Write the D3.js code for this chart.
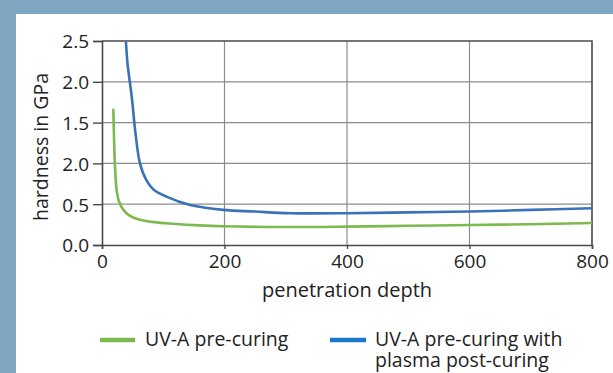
<!DOCTYPE html>
<html>
<head>
<meta charset="utf-8">
<script src="https://cdnjs.cloudflare.com/ajax/libs/d3/7.8.5/d3.min.js"></script>
<style>
  html, body { margin: 0; padding: 0; background: #7fa6c1; }
  svg { display: block; }
  text { font-family: "Open Sans", "Noto Sans", sans-serif; fill: #222; }
</style>
</head>
<body>
<div id="chart"></div>
<script>
/*
 * Chart data.
 */
var uvDepth  = [18.5, 19.5, 21, 24, 28, 35, 45, 62, 85, 116, 160, 198, 291, 400, 500, 601, 700, 800];
var uvValues = [1.67, 1.35, 1.00, 0.67, 0.53, 0.43, 0.36, 0.31, 0.28, 0.26, 0.24, 0.23, 0.22, 0.225, 0.235, 0.245, 0.255, 0.27];

var plasmaDepth  = [39, 42, 48.5, 55, 62, 72, 84, 106, 144, 198, 250, 307, 400, 500, 601, 700, 800];
var plasmaValues = [2.5, 2.2, 1.82, 1.35, 1.00, 0.80, 0.68, 0.59, 0.49, 0.43, 0.41, 0.39, 0.39, 0.40, 0.41, 0.43, 0.45];

var xTicks = [0, 200, 400, 600, 800];
var yTicks = [0, 0.5, 1.0, 1.5, 2.0, 2.5];
/* labels as printed in the figure */
var yTickLabels = ['0.0', '0.5', '2.0', '1.5', '2.0', '2.5'];

var seriesNames  = ['UV-A pre-curing', 'UV-A pre-curing with', 'plasma post-curing'];
var seriesColors = ['#7cb94e', '#3a72b8'];

/*
 * Dimensions.
 */
var width  = 613,
    height = 373;
var plot = { left: 102, right: 592, top: 41, bottom: 245 };

var svg = d3.select('#chart').append('svg')
    .attr('width', width)
    .attr('height', height);
/*
 * White panel.
 */
svg.append('rect')
    .attr('x', 16)
    .attr('y', 14)
    .attr('width', width - 16)
    .attr('height', height - 14)
    .attr('fill', '#ffffff');
/*
 * Scales.
 */
var x = d3.scaleLinear().domain([0, 800]).range([plot.left, plot.right]);
var y = d3.scaleLinear().domain([0, 2.5]).range([plot.bottom, plot.top]);
/*
 * Grid.
 */
svg.append('g')
    .selectAll('line')
    .data(xTicks.slice(1, -1))
    .join('line')
    .attr('x1', d => x(d)).attr('x2', d => x(d))
    .attr('y1', plot.top).attr('y2', plot.bottom)
    .attr('stroke', '#8c8c8c')
    .attr('stroke-width', 1.2);

svg.append('g')
    .selectAll('line')
    .data(yTicks.slice(1, -1))
    .join('line')
    .attr('x1', plot.left).attr('x2', plot.right)
    .attr('y1', d => y(d)).attr('y2', d => y(d))
    .attr('stroke', '#8c8c8c')
    .attr('stroke-width', 1.2);
/*
 * Frame (top and right).
 */
svg.append('path')
    .attr('d', 'M' + plot.left + ',' + plot.top + 'H' + plot.right + 'V' + plot.bottom)
    .attr('fill', 'none')
    .attr('stroke', '#4a4a4a')
    .attr('stroke-width', 1.6);
/*
 * Axes.
 */
var xAxis = svg.append('g')
    .attr('transform', 'translate(0,' + plot.bottom + ')')
    .call(d3.axisBottom(x).tickValues(xTicks).tickSize(4).tickPadding(6).tickFormat(d3.format('d')));

var yAxis = svg.append('g')
    .attr('transform', 'translate(' + plot.left + ',0)')
    .call(d3.axisLeft(y).tickValues(yTicks).tickSize(9).tickPadding(4)
        .tickFormat((d, i) => yTickLabels[i]));

[xAxis, yAxis].forEach(function(axis) {
    axis.select('.domain').attr('stroke', '#4a4a4a').attr('stroke-width', 1.6);
    axis.selectAll('.tick line').attr('stroke', '#4a4a4a').attr('stroke-width', 1.4);
    axis.selectAll('.tick text')
        .attr('font-size', 19)
        .attr('font-family', '"Open Sans", "Noto Sans", sans-serif')
        .attr('fill', '#222');
});
yAxis.selectAll('.tick text').attr('dy', '0.36em');
xAxis.selectAll('.tick text').attr('dy', '0.7em');
/*
 * Axis titles.
 */
svg.append('text')
    .attr('x', (plot.left + plot.right) / 2)
    .attr('y', 297)
    .attr('text-anchor', 'middle')
    .attr('font-size', 20)
    .text('penetration depth');

svg.append('text')
    .attr('transform', 'translate(48,' + 147 + ') rotate(-90)')
    .attr('text-anchor', 'middle')
    .attr('font-size', 19.5)
    .text('hardness in GPa');
/*
 * Lines.
 */
var lineGen = d3.line()
    .x(d => x(d[0]))
    .y(d => y(d[1]))
    .curve(d3.curveCatmullRom.alpha(0.5));

svg.append('path')
    .datum(d3.zip(uvDepth, uvValues))
    .attr('d', lineGen)
    .attr('fill', 'none')
    .attr('stroke', seriesColors[0])
    .attr('stroke-width', 2.6);

svg.append('path')
    .datum(d3.zip(plasmaDepth, plasmaValues))
    .attr('d', lineGen)
    .attr('fill', 'none')
    .attr('stroke', seriesColors[1])
    .attr('stroke-width', 2.6);
/*
 * Legend.
 */
var legend = svg.append('g');

legend.append('line')
    .attr('x1', 100).attr('x2', 135)
    .attr('y1', 340).attr('y2', 340)
    .attr('stroke', seriesColors[0])
    .attr('stroke-width', 4.5);
legend.append('text')
    .attr('x', 145).attr('y', 346)
    .attr('font-size', 19.5)
    .text(seriesNames[0]);

legend.append('line')
    .attr('x1', 330).attr('x2', 366)
    .attr('y1', 340).attr('y2', 340)
    .attr('stroke', '#1b79c9')
    .attr('stroke-width', 4.5);
legend.append('text')
    .attr('x', 375).attr('y', 346)
    .attr('font-size', 19.5)
    .text(seriesNames[1]);
legend.append('text')
    .attr('x', 375).attr('y', 367)
    .attr('font-size', 19.5)
    .text(seriesNames[2]);
</script>
</body>
</html>
